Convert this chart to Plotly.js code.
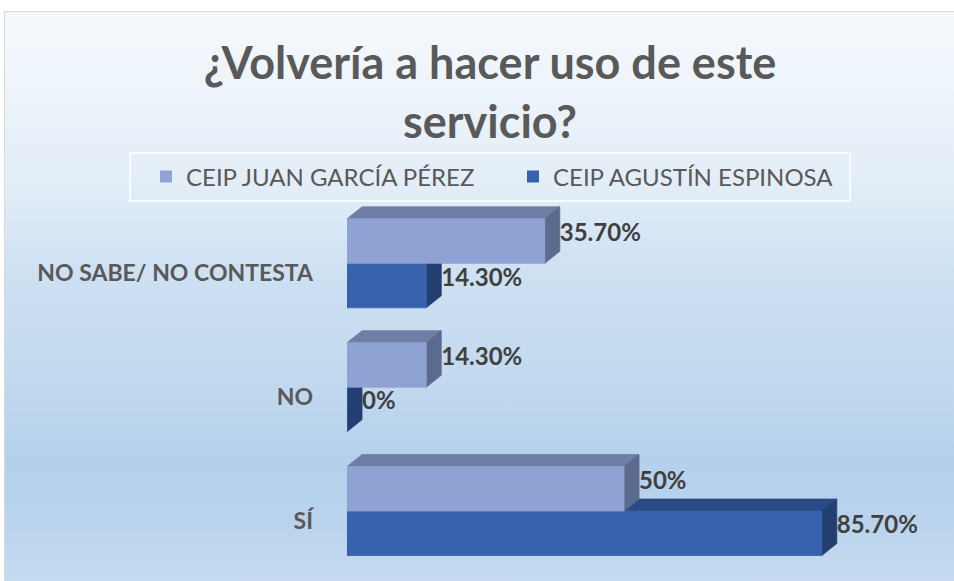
<!DOCTYPE html>
<html><head><meta charset="utf-8">
<script src="https://cdn.plot.ly/plotly-3.0.1.min.js"></script>
<style>
html,body{margin:0;padding:0;width:954px;height:581px;overflow:hidden;background:#fff;}
#bg{position:absolute;left:4px;top:11px;width:980px;height:590px;border:1px solid #D9D9D9;box-sizing:border-box;
background:linear-gradient(180deg,#F5F9FD 0%,#E2EDF7 30%,#D0E2F3 42%,#BFD7EE 66%,#B4D0EB 76%,#B9D3ED 86%,#C9DDF1 100%);}
#chart{position:absolute;left:0;top:0;width:954px;height:581px;}
</style></head><body><div id="bg"></div><div id="chart"></div>
<script>
const categories = ['NO SABE/ NO CONTESTA', 'NO', 'SÍ'];
const seriesNames = ['CEIP JUAN GARCÍA PÉREZ', 'CEIP AGUSTÍN ESPINOSA'];
const juanValues = [35.7, 14.3, 50];
const agustinValues = [14.3, 0, 85.7];

// styling
const W = 954, H = 581;
const L = 347, PW = 554, XMAX = 100;          // plot area horizontal
const YMIN = -0.5, YMAX = 2.6, PT = 189.1, PH = 384.4;
const BAR_H = 0.359, DX = 2.71, DY = 0.097;
const colors = {
  light: {front: '#8FA2D4', top: '#6E7EA4', side: '#5C6A8E'},
  dark:  {front: '#3862AE', top: '#2A4A86', side: '#233F71'}
};
const pos = categories.map((c, i) => categories.length - 1 - i);
const fmt = v => (Number.isInteger(v) ? v : v.toFixed(2)) + '%';
const px2x = p => (p - L) / PW;
const px2y = p => (PT + PH - p) / PH;

function faces(values, isUpper) {
  const front = {x: [], y: []}, top = {x: [], y: []}, side = {x: [], y: []};
  values.forEach((v, i) => {
    const y0 = isUpper ? pos[i] : pos[i] - BAR_H;
    const y1 = y0 + BAR_H;
    front.x.push(0, v, v, 0, 0, null); front.y.push(y0, y0, y1, y1, y0, null);
    top.x.push(0, v, v + DX, DX, 0, null); top.y.push(y1, y1, y1 + DY, y1 + DY, y1, null);
    side.x.push(v, v + DX, v + DX, v, v, null); side.y.push(y0, y0 + DY, y1 + DY, y1, y0, null);
  });
  return {front, top, side};
}
function polyTrace(d, color) {
  return {type: 'scatter', mode: 'lines', x: d.x, y: d.y, fill: 'toself', fillcolor: color,
          line: {color: color, width: 0.8}, hoverinfo: 'skip', showlegend: false};
}
function labelTrace(values, isUpper) {
  return {type: 'scatter', mode: 'text', hoverinfo: 'skip', showlegend: false, cliponaxis: false,
    x: values.map(v => v + DX),
    y: values.map((v, i) => (isUpper ? pos[i] + BAR_H / 2 : pos[i] - BAR_H / 2) + DY / 2),
    text: values.map(fmt), textposition: 'middle right',
    textfont: {family: 'Lato', size: 24, color: '#404040', weight: 'bold'}};
}
const fl = faces(juanValues, true), fd = faces(agustinValues, false);
const traces = [
  polyTrace(fd.top, colors.dark.top), polyTrace(fd.side, colors.dark.side), polyTrace(fd.front, colors.dark.front),
  polyTrace(fl.top, colors.light.top), polyTrace(fl.side, colors.light.side), polyTrace(fl.front, colors.light.front),
  labelTrace(juanValues, true), labelTrace(agustinValues, false),
  {type: 'scatter', mode: 'markers', x: [null], y: [null], name: seriesNames[0],
   marker: {symbol: 'square', size: 12, color: colors.light.front}},
  {type: 'scatter', mode: 'markers', x: [null], y: [null], name: seriesNames[1],
   marker: {symbol: 'square', size: 12, color: colors.dark.front}}
];
const layout = {
  width: W, height: H,
  margin: {l: L, r: W - L - PW, t: PT, b: H - PT - PH, autoexpand: false},
  paper_bgcolor: 'rgba(0,0,0,0)', plot_bgcolor: 'rgba(0,0,0,0)',
  title: {text: '¿Volvería a hacer uso de este<br>servicio?', xref: 'container', yref: 'container',
          x: 490 / W, xanchor: 'center', y: 1 - 79 / H, yanchor: 'top',
          font: {family: 'Lato', size: 45, color: '#595959', weight: 'bold'}},
  xaxis: {range: [0, XMAX], visible: false, fixedrange: true},
  yaxis: {range: [YMIN, YMAX], tickmode: 'array', tickvals: pos.map(p => p - 0.08), ticktext: categories,
          showgrid: false, zeroline: false, showline: false, ticks: '', ticklabelstandoff: 33,
          tickfont: {family: 'Lato', size: 23, color: '#595959', weight: 'bold'}, fixedrange: true},
  showlegend: true,
  legend: {orientation: 'h', x: px2x(146), xanchor: 'left', y: px2y(177), yanchor: 'middle',
           entrywidth: 322, entrywidthmode: 'pixels', bgcolor: 'rgba(0,0,0,0)', borderwidth: 0,
           font: {family: 'Lato', size: 24, color: '#595959'}},
  shapes: [{type: 'rect', xref: 'paper', yref: 'paper', x0: px2x(130), x1: px2x(850), y0: px2y(201), y1: px2y(153),
            line: {color: '#FFFFFF', width: 1.5}, fillcolor: 'rgba(0,0,0,0)'}]
};
Plotly.newPlot('chart', traces, layout, {displayModeBar: false, staticPlot: true});
</script></body></html>
